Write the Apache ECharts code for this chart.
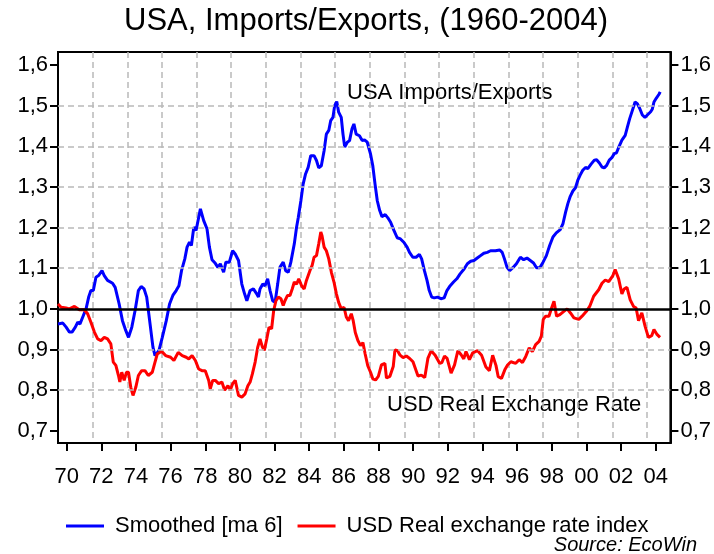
<!DOCTYPE html>
<html><head><meta charset="utf-8">
<script src="https://cdn.jsdelivr.net/npm/echarts@6/dist/echarts.min.js"></script>
<style>html,body{margin:0;padding:0;background:#fff}#c{width:714px;height:554px}</style>
</head><body><div id="c"></div>
<script>
// USA Imports/Exports (smoothed, ma 6)
const importYears = [1970.0,1970.28,1970.47,1970.66,1970.81,1971.0,1971.14,1971.27,1971.43,1971.62,1971.77,1971.9,1972.04,1972.19,1972.34,1972.54,1972.67,1972.86,1973.15,1973.3,1973.53,1973.72,1973.91,1974.07,1974.26,1974.45,1974.64,1974.8,1974.97,1975.12,1975.29,1975.48,1975.6,1975.83,1976.02,1976.25,1976.44,1976.63,1976.82,1976.98,1977.13,1977.32,1977.45,1977.59,1977.7,1977.84,1977.97,1978.12,1978.22,1978.41,1978.6,1978.74,1978.89,1979.08,1979.23,1979.37,1979.56,1979.69,1979.89,1980.08,1980.23,1980.42,1980.61,1980.77,1980.9,1981.09,1981.28,1981.47,1981.57,1981.66,1981.82,1981.95,1982.1,1982.24,1982.39,1982.53,1982.68,1982.81,1983.0,1983.14,1983.29,1983.44,1983.64,1983.77,1983.87,1984.02,1984.15,1984.29,1984.44,1984.59,1984.78,1984.92,1985.05,1985.2,1985.36,1985.49,1985.63,1985.74,1985.87,1985.97,1986.09,1986.2,1986.35,1986.45,1986.55,1986.7,1986.83,1986.97,1987.08,1987.21,1987.4,1987.56,1987.69,1987.85,1988.04,1988.17,1988.3,1988.43,1988.57,1988.7,1988.89,1989.04,1989.2,1989.39,1989.58,1989.77,1989.96,1990.15,1990.29,1990.48,1990.67,1990.86,1990.99,1991.15,1991.3,1991.43,1991.57,1991.72,1991.91,1992.1,1992.29,1992.45,1992.64,1992.83,1993.02,1993.21,1993.44,1993.63,1993.82,1994.01,1994.2,1994.39,1994.58,1994.78,1994.97,1995.25,1995.5,1995.64,1995.77,1995.92,1996.07,1996.27,1996.46,1996.69,1996.88,1997.07,1997.26,1997.45,1997.62,1997.81,1998.0,1998.19,1998.38,1998.57,1998.76,1998.99,1999.15,1999.3,1999.43,1999.57,1999.72,1999.87,2000.0,2000.14,2000.29,2000.45,2000.58,2000.77,2000.96,2001.09,2001.25,2001.4,2001.53,2001.67,2001.82,2001.97,2002.11,2002.24,2002.39,2002.55,2002.74,2002.87,2003.0,2003.16,2003.31,2003.44,2003.58,2003.73,2003.88,2004.02,2004.21,2004.3,2004.4,2004.53,2004.69,2004.76];
const importValues = [0.963,0.965,0.955,0.943,0.943,0.955,0.967,0.963,0.98,1.0,1.029,1.045,1.045,1.078,1.082,1.094,1.082,1.07,1.063,1.053,1.012,0.971,0.947,0.93,0.955,0.996,1.045,1.055,1.049,1.029,0.971,0.906,0.885,0.898,0.93,0.971,1.012,1.033,1.045,1.057,1.094,1.123,1.152,1.164,1.156,1.201,1.193,1.225,1.246,1.217,1.197,1.152,1.121,1.112,1.102,1.111,1.09,1.115,1.115,1.143,1.135,1.119,1.061,1.037,1.02,1.045,1.049,1.037,1.029,1.049,1.061,1.057,1.074,1.045,1.02,1.016,1.061,1.102,1.115,1.094,1.09,1.115,1.16,1.201,1.225,1.266,1.307,1.332,1.348,1.377,1.377,1.365,1.347,1.352,1.389,1.43,1.439,1.463,1.471,1.5,1.51,1.484,1.471,1.43,1.398,1.41,1.414,1.443,1.455,1.43,1.426,1.414,1.416,1.41,1.381,1.352,1.307,1.266,1.242,1.227,1.232,1.224,1.213,1.193,1.175,1.172,1.164,1.152,1.139,1.127,1.127,1.134,1.123,1.094,1.07,1.045,1.029,1.027,1.029,1.025,1.027,1.045,1.057,1.066,1.074,1.086,1.098,1.111,1.117,1.119,1.125,1.131,1.137,1.139,1.143,1.143,1.145,1.139,1.123,1.102,1.094,1.102,1.111,1.127,1.121,1.125,1.119,1.113,1.101,1.101,1.115,1.131,1.156,1.177,1.187,1.195,1.21,1.238,1.259,1.277,1.29,1.298,1.316,1.329,1.341,1.348,1.345,1.356,1.366,1.367,1.359,1.349,1.347,1.353,1.366,1.372,1.382,1.384,1.4,1.415,1.427,1.448,1.468,1.489,1.509,1.505,1.493,1.477,1.471,1.477,1.485,1.491,1.509,1.518,1.528,1.534];

// USD real exchange rate index
const rateYears = [1970.0,1970.18,1970.47,1970.66,1970.95,1971.23,1971.52,1971.71,1971.9,1972.1,1972.29,1972.48,1972.67,1972.86,1973.05,1973.19,1973.34,1973.49,1973.57,1973.68,1973.82,1973.95,1974.07,1974.2,1974.33,1974.49,1974.64,1974.83,1975.02,1975.21,1975.44,1975.6,1975.73,1975.98,1976.21,1976.5,1976.69,1976.94,1977.17,1977.4,1977.55,1977.74,1977.93,1978.12,1978.31,1978.5,1978.7,1978.79,1978.93,1979.08,1979.27,1979.46,1979.62,1979.81,1979.94,1980.08,1980.23,1980.42,1980.61,1980.8,1980.96,1981.09,1981.22,1981.38,1981.53,1981.66,1981.8,1981.91,1982.05,1982.18,1982.33,1982.45,1982.58,1982.72,1982.87,1983.0,1983.1,1983.25,1983.39,1983.52,1983.64,1983.77,1983.9,1984.06,1984.21,1984.34,1984.54,1984.67,1984.78,1984.92,1985.05,1985.17,1985.24,1985.36,1985.49,1985.63,1985.78,1985.93,1986.07,1986.2,1986.35,1986.51,1986.64,1986.77,1986.93,1987.04,1987.16,1987.31,1987.46,1987.6,1987.73,1987.88,1988.04,1988.17,1988.33,1988.49,1988.67,1988.87,1988.96,1989.16,1989.35,1989.45,1989.6,1989.73,1989.92,1990.11,1990.3,1990.49,1990.78,1990.97,1991.17,1991.35,1991.54,1991.77,1992.03,1992.16,1992.31,1992.46,1992.69,1992.89,1993.08,1993.27,1993.42,1993.55,1993.75,1993.94,1994.22,1994.45,1994.7,1994.9,1995.09,1995.28,1995.41,1995.6,1995.79,1995.95,1996.14,1996.42,1996.62,1996.81,1997.0,1997.2,1997.38,1997.57,1997.77,1997.9,1998.01,1998.15,1998.34,1998.49,1998.63,1998.78,1998.97,1999.2,1999.39,1999.58,1999.78,2000.06,2000.25,2000.5,2000.69,2000.92,2001.21,2001.4,2001.59,2001.79,2002.03,2002.16,2002.36,2002.55,2002.68,2002.84,2003.03,2003.22,2003.37,2003.51,2003.7,2003.89,2004.08,2004.27,2004.4,2004.56,2004.75];
const rateValues = [1.012,1.004,1.002,1.0,1.006,0.998,0.998,0.988,0.967,0.943,0.926,0.922,0.93,0.926,0.914,0.869,0.861,0.836,0.82,0.844,0.824,0.844,0.844,0.807,0.787,0.807,0.836,0.848,0.848,0.836,0.844,0.869,0.889,0.896,0.885,0.881,0.873,0.893,0.885,0.881,0.877,0.885,0.873,0.852,0.848,0.848,0.824,0.803,0.824,0.824,0.816,0.82,0.8,0.811,0.8,0.816,0.824,0.787,0.783,0.791,0.811,0.82,0.84,0.869,0.906,0.926,0.906,0.898,0.926,0.955,0.951,0.996,1.02,1.029,1.025,1.008,1.02,1.033,1.033,1.049,1.066,1.061,1.074,1.057,1.049,1.07,1.094,1.107,1.127,1.131,1.16,1.189,1.18,1.152,1.143,1.123,1.09,1.066,1.037,1.016,1.0,1.004,0.98,0.971,0.988,0.971,0.942,0.922,0.91,0.917,0.889,0.86,0.844,0.828,0.825,0.834,0.862,0.866,0.83,0.834,0.858,0.899,0.897,0.887,0.88,0.884,0.878,0.87,0.835,0.837,0.831,0.878,0.897,0.886,0.866,0.868,0.884,0.878,0.842,0.862,0.897,0.887,0.877,0.895,0.875,0.892,0.897,0.886,0.857,0.848,0.886,0.861,0.833,0.829,0.85,0.862,0.87,0.866,0.875,0.868,0.883,0.904,0.895,0.912,0.92,0.933,0.974,0.982,0.982,1.002,1.019,0.982,0.986,0.994,1.0,0.99,0.978,0.974,0.982,0.994,1.006,1.031,1.047,1.063,1.071,1.067,1.082,1.097,1.074,1.037,1.049,1.053,1.022,1.006,1.002,0.971,0.99,0.957,0.93,0.934,0.949,0.938,0.93];

const xTickYears = [1970,1972,1974,1976,1978,1980,1982,1984,1986,1988,1990,1992,1994,1996,1998,2000,2002,2004];
const xTickLabels = ['70','72','74','76','78','80','82','84','86','88','90','92','94','96','98','00','02','04'];
const yTickValues = [0.7,0.8,0.9,1.0,1.1,1.2,1.3,1.4,1.5,1.6];
const yTickLabels = ['0,7','0,8','0,9','1,0','1,1','1,2','1,3','1,4','1,5','1,6'];
const gridLevels = [0.8,0.9,1.1,1.2,1.3,1.4,1.5];
const baseLevel = 1.0;

const FONT = '"Liberation Sans", Arial, Helvetica, sans-serif';
const X_MIN = 1970, X_MAX = 2005.35, Y_MIN = 0.67, Y_MAX = 1.632;
const xLabelPos = xTickYears.map(y => y + 0.5);
const gridColor = '#b9b9b9';

function xFmt(v) {
  const i = xLabelPos.findIndex(p => Math.abs(p - v) < 1e-6);
  return i >= 0 ? xTickLabels[i] : '';
}
function yFmt(v) {
  const i = yTickValues.findIndex(p => Math.abs(p - v) < 1e-6);
  return i >= 0 ? yTickLabels[i] : '';
}
function yAxisCfg(pos) {
  return {
    type: 'value', min: Y_MIN, max: Y_MAX, position: pos,
    axisLine: { show: true, onZero: false, lineStyle: { color: '#000', width: 2 } },
    axisTick: { show: true, inside: false, length: 8, customValues: yTickValues, lineStyle: { color: '#000', width: 2 } },
    axisLabel: { show: true, customValues: yTickValues, formatter: yFmt, margin: 10, fontSize: 22, color: '#000', fontFamily: FONT },
    splitLine: { show: false }
  };
}

const chart = echarts.init(document.getElementById('c'), null, { renderer: 'canvas' });
chart.setOption({
  animation: false,
  backgroundColor: '#fff',
  textStyle: { fontFamily: FONT },
  title: {
    text: 'USA, Imports/Exports, (1960-2004)',
    left: 124, top: 6, padding: 0,
    textStyle: { fontSize: 31, fontWeight: 'normal', color: '#000', fontFamily: FONT }
  },
  grid: { left: 58, right: 40, top: 52, bottom: 111, show: true, borderColor: '#000', borderWidth: 2, backgroundColor: 'transparent' },
  legend: {
    data: ['Smoothed [ma 6]', 'USD Real exchange rate index'],
    left: 61, top: 510, icon: 'rect', itemWidth: 38, itemHeight: 3, itemGap: 15,
    textStyle: { fontSize: 22, color: '#000', fontFamily: FONT, padding: [0, 0, 0, 6] }
  },
  xAxis: [
    {
      type: 'value', min: X_MIN, max: X_MAX, interval: 2, position: 'bottom',
      axisLine: { show: true, onZero: false, lineStyle: { color: '#000', width: 2 } },
      axisTick: { show: false }, axisLabel: { show: false },
      splitLine: { show: true, lineStyle: { color: gridColor, type: [6, 4], width: 1.5 } }
    },
    {
      type: 'value', min: X_MIN, max: X_MAX, position: 'bottom',
      axisLine: { show: false, onZero: false },
      axisTick: { show: true, length: 8, customValues: xLabelPos, lineStyle: { color: '#000', width: 2 } },
      axisLabel: { show: true, customValues: xLabelPos, formatter: xFmt, margin: 23, fontSize: 22, color: '#000', fontFamily: FONT },
      splitLine: { show: false }
    }
  ],
  yAxis: [yAxisCfg('left'), yAxisCfg('right')],
  graphic: [
    { type: 'text', left: 347, top: 82, style: { text: 'USA Imports/Exports', font: '22px ' + FONT, fill: '#000' } },
    { type: 'text', left: 387, top: 394, style: { text: 'USD Real Exchange Rate', font: '22px ' + FONT, fill: '#000' } },
    { type: 'text', right: 17, top: 535, style: { text: 'Source: EcoWin', font: 'italic 20px ' + FONT, fill: '#000' } }
  ],
  series: [
    {
      name: 'gridlines', type: 'line', xAxisIndex: 0, yAxisIndex: 0, data: [], z: 1, silent: true,
      markLine: {
        silent: true, symbol: ['none', 'none'], label: { show: false }, animation: false,
        lineStyle: { color: gridColor, type: [6, 4], width: 1.5 },
        data: gridLevels.map(v => ({ yAxis: v })).concat([
          { yAxis: baseLevel, lineStyle: { color: '#000', type: 'solid', width: 2.5 } }
        ])
      }
    },
    {
      name: 'Smoothed [ma 6]', type: 'line', xAxisIndex: 0, yAxisIndex: 0, showSymbol: false, symbol: 'none', z: 3,
      data: importYears.map((x, i) => [x, importValues[i]]),
      itemStyle: { color: '#0000ff' }, lineStyle: { color: '#0000ff', width: 3 }
    },
    {
      name: 'USD Real exchange rate index', type: 'line', xAxisIndex: 0, yAxisIndex: 0, showSymbol: false, symbol: 'none', z: 3,
      data: rateYears.map((x, i) => [x, rateValues[i]]),
      itemStyle: { color: '#ff0000' }, lineStyle: { color: '#ff0000', width: 3 }
    }
  ]
});
</script>
</body></html>
